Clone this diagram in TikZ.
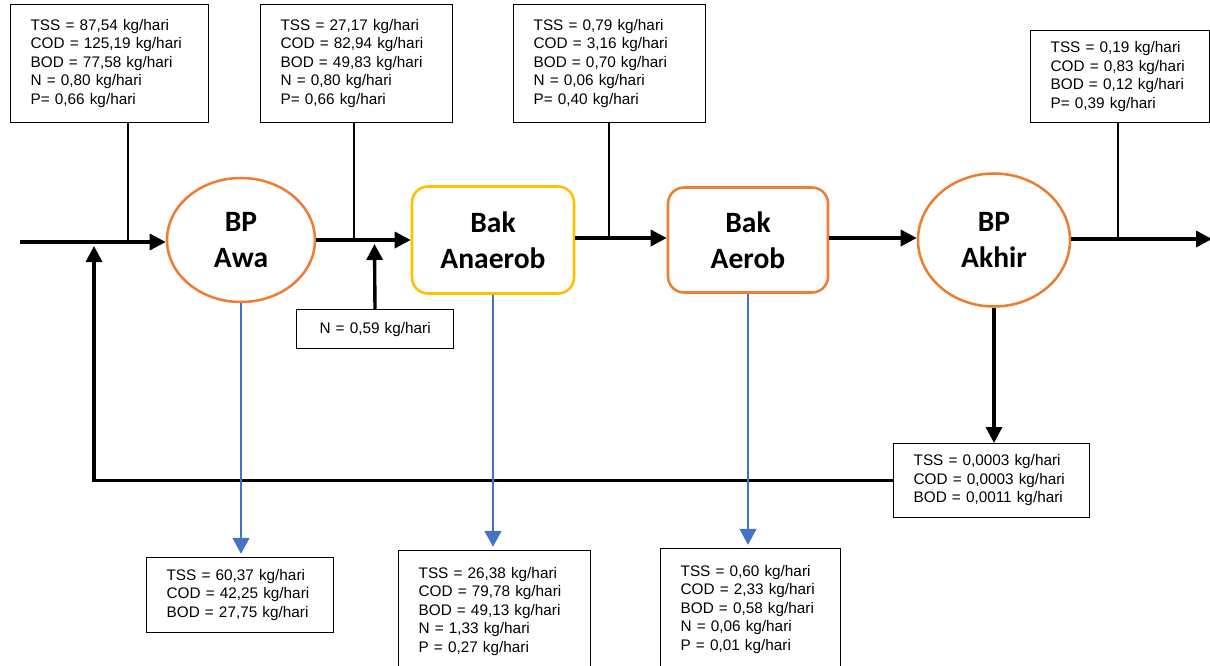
\documentclass[tikz,border=0pt]{standalone}
\usepackage{fontspec}
\setmainfont{Liberation Sans}
\newfontfamily\headfont{Carlito}
\usepackage{tikz}
\usetikzlibrary{arrows.meta,shapes.geometric}
\definecolor{tankorange}{HTML}{ED7D31}
\definecolor{tankyellow}{HTML}{FFC000}
\definecolor{sludgeblue}{HTML}{4472C4}
\newcommand{\vals}[1]{\begin{tabular}{@{}l@{}}#1\end{tabular}}

\begin{document}
\begin{tikzpicture}[data_box/.style={draw, line width=0.9pt, anchor=north west, align=left, inner xsep=0.5cm, inner ysep=0pt, font=\fontsize{10.9}{13.2}\selectfont},
    pond_node/.style={ellipse, draw=tankorange, line width=1.8pt, align=center, font=\headfont\bfseries\fontsize{21}{25.6}\selectfont},
    tank_node/.style={rectangle, rounded corners=0.4cm, line width=1.8pt, align=center, font=\headfont\bfseries\fontsize{21}{25.6}\selectfont},
    flow/.style={line width=2.4pt, -{Triangle[length=0.4cm, width=0.4cm]}},
    tap_line/.style={line width=0.9pt},
    sludge/.style={draw=sludgeblue, line width=1.6pt, shorten >=0.08cm, -{Triangle[length=0.4cm, width=0.42cm]}}]

    \useasboundingbox (0, 0) rectangle (30.25, -16.625);
    \clip (0, 0) rectangle (30.25, -16.625);

    % data above the line
    \node[data_box, text width=3.95cm, minimum height=2.95cm] (d1) at (0.25, -0.1) {\vals{TSS = 87,54 kg/hari\\COD = 125,19 kg/hari\\BOD = 77,58 kg/hari\\N = 0,80 kg/hari\\P= 0,66 kg/hari}};
    \node[data_box, text width=3.8cm, minimum height=2.95cm] (d2) at (6.5, -0.1) {\vals{TSS = 27,17 kg/hari\\COD = 82,94 kg/hari\\BOD = 49,83 kg/hari\\N = 0,80 kg/hari\\P= 0,66 kg/hari}};
    \node[data_box, text width=3.8cm, minimum height=2.95cm] (d3) at (12.825, -0.1) {\vals{TSS = 0,79 kg/hari\\COD = 3,16 kg/hari\\BOD = 0,70 kg/hari\\N = 0,06 kg/hari\\P= 0,40 kg/hari}};
    \node[data_box, text width=3.475cm, minimum height=2.3cm] (d4) at (25.75, -0.75) {\vals{TSS = 0,19 kg/hari\\COD = 0,83 kg/hari\\BOD = 0,12 kg/hari\\P= 0,39 kg/hari}};

    % units
    \node[pond_node, minimum width=3.7cm, minimum height=3.1cm] (awa) at (6.025, -6.0) {BP\\Awa};
    \node[tank_node, draw=tankyellow, minimum width=4.05cm, minimum height=2.675cm] (anaerob) at (12.325, -6.0) {Bak\\Anaerob};
    \node[tank_node, draw=tankorange, minimum width=4.0cm, minimum height=2.625cm] (aerob) at (18.7, -6.0) {Bak\\Aerob};
    \node[pond_node, minimum width=3.8cm, minimum height=3.325cm] (akhir) at (24.85, -6.0) {BP\\Akhir};

    % data below the line
    \node[data_box, text width=2.925cm, minimum height=0.975cm, align=center] (ndose) at (7.4, -7.725) {N = 0,59 kg/hari};
    \node[data_box, text width=3.9cm, minimum height=1.85cm] (recycle) at (22.325, -11.075) {\vals{TSS = 0,0003 kg/hari\\COD = 0,0003 kg/hari\\BOD = 0,0011 kg/hari}};
    \node[data_box, text width=3.675cm, minimum height=1.875cm] (s1) at (3.65, -13.925) {\vals{TSS = 60,37 kg/hari\\COD = 42,25 kg/hari\\BOD = 27,75 kg/hari}};
    \node[data_box, text width=3.8cm, minimum height=3.05cm] (s2) at (9.95, -13.75) {\vals{TSS = 26,38 kg/hari\\COD = 79,78 kg/hari\\BOD = 49,13 kg/hari\\N = 1,33 kg/hari\\P = 0,27 kg/hari}};
    \node[data_box, text width=3.5cm, minimum height=3.05cm] (s3) at (16.5, -13.7) {\vals{TSS = 0,60 kg/hari\\COD = 2,33 kg/hari\\BOD = 0,58 kg/hari\\N = 0,06 kg/hari\\P = 0,01 kg/hari}};

    \coordinate (inlet) at (0.5, -6.05);
    \coordinate (j1) at (3.2, -6.05);
    \coordinate (ret) at (2.35, -6.15);
    \coordinate (j2) at (8.85, -6.0);
    \coordinate (ndosein) at (9.3625, -6.1);
    \coordinate (j3) at (15.225, -5.95);
    \coordinate (j4) at (27.95, -5.975);
    \coordinate (outlet) at (30.3, -5.975);

    \draw[flow] (inlet) -- (inlet -| awa.west);
    \draw[flow] (awa) -- (anaerob);
    \draw[flow] (anaerob.east |- j3) -- (aerob.west |- j3);
    \draw[flow] (aerob.east |- j3) -- (akhir.west |- j3);
    \draw[flow] (akhir.east |- j4) -- (outlet);
    \draw[tap_line] (d1.south -| j1) -- (j1);
    \draw[tap_line] (d2.south -| j2) -- (j2);
    \draw[tap_line] (d3.south -| j3) -- (j3);
    \draw[tap_line] (d4.south -| j4) -- (j4);
    \draw[flow] (ndose) -- (ndosein);
    \draw[flow] (akhir) -- (akhir |- recycle.north);
    \draw[flow] (recycle.west) -| (ret);
    \draw[sludge] (awa) -- (awa |- s1.north);
    \draw[sludge] (anaerob) -- (anaerob |- s2.north);
    \draw[sludge] (aerob) -- (aerob |- s3.north);
\end{tikzpicture}
\end{document}
